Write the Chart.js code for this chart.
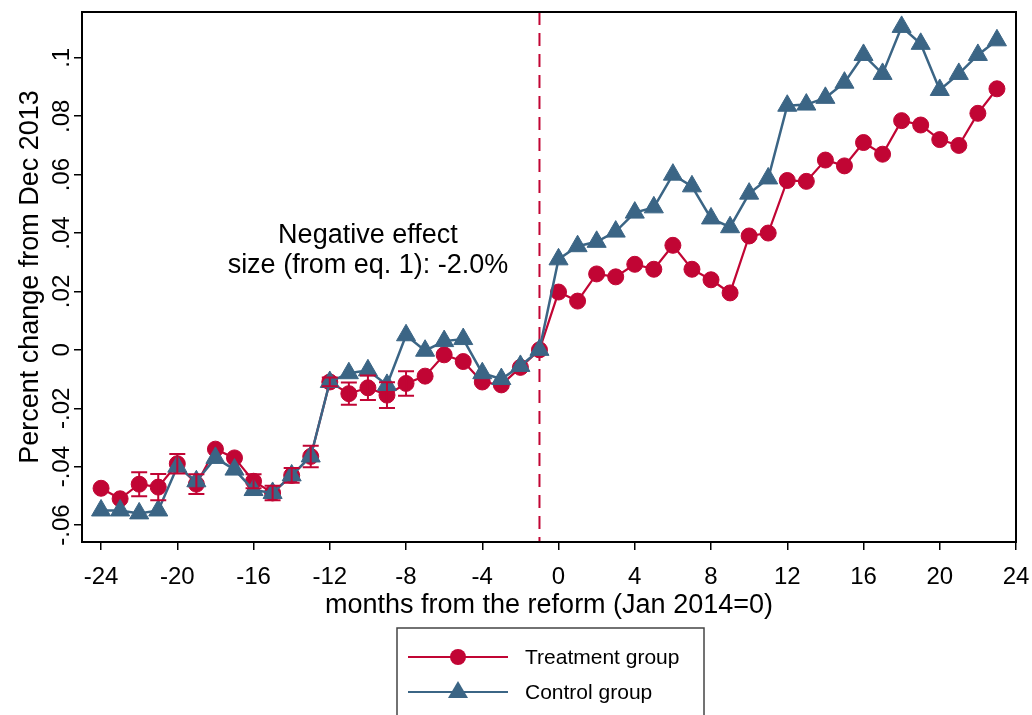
<!DOCTYPE html>
<html>
<head>
<meta charset="utf-8">
<script src="https://cdn.jsdelivr.net/npm/chart.js@4.4.0/dist/chart.umd.min.js"></script>
<style>
html, body { margin: 0; padding: 0; background: #fff; }
#wrap { width: 1032px; height: 715px; }
</style>
</head>
<body>
<div id="wrap"><canvas id="myChart" width="1032" height="715"></canvas></div>
<script>
// months relative to the reform, Jan 2014 = 0
var months = [-24,-23,-22,-21,-20,-19,-18,-17,-16,-15,-14,-13,
              -12,-11,-10,-9,-8,-7,-6,-5,-4,-3,-2,-1,
              0,1,2,3,4,5,6,7,8,9,10,11,
              12,13,14,15,16,17,18,19,20,21,22,23];

var treatment = [-0.0474,-0.0510,-0.0460,-0.0470,-0.0390,-0.0460,-0.0340,-0.0370,-0.0450,-0.0490,-0.0430,-0.0365,
                 -0.0110,-0.0150,-0.0130,-0.0155,-0.0115,-0.0090,-0.0017,-0.0040,-0.0110,-0.0120,-0.0060,0,
                 0.0198,0.0167,0.0260,0.0250,0.0293,0.0276,0.0358,0.0276,0.0240,0.0195,0.0390,0.0400,
                 0.0580,0.0577,0.0650,0.0630,0.0710,0.0670,0.0785,0.0770,0.0720,0.0700,0.0810,0.0894];

// half width of the confidence band around the treatment points
var treatErr = [0,0,0.0041,0.0045,0.0033,0.0034,0,0,0.0024,0.0025,0.0025,0.0037,
                0.0015,0.0038,0.0042,0.0044,0.0042,0,0,0,0,0,0,0,
                0,0,0,0,0,0,0,0,0,0,0,0,
                0,0,0,0,0,0,0,0,0,0,0,0];

var control = [-0.0550,-0.0550,-0.0560,-0.0550,-0.0400,-0.0450,-0.0370,-0.0410,-0.0480,-0.0490,-0.0430,-0.0365,
               -0.0110,-0.0080,-0.0070,-0.0120,0.0050,-0.0003,0.0030,0.0037,-0.0080,-0.0100,-0.0055,0,
               0.0310,0.0355,0.0370,0.0405,0.0470,0.0488,0.0600,0.0560,0.0450,0.0420,0.0535,0.0587,
               0.0836,0.0840,0.0863,0.0915,0.1010,0.0945,0.1106,0.1048,0.0890,0.0945,0.1010,0.1060];

var xTicks = [-24,-20,-16,-12,-8,-4,0,4,8,12,16,20,24];
var yTicks = [-0.06,-0.04,-0.02,0,0.02,0.04,0.06,0.08,0.1];
var yTickLabels = ['-.06','-.04','-.02','0','.02','.04','.06','.08','.1'];

var reformMonth = -1;
var noteLines = ['Negative effect', 'size (from eq. 1): -2.0%'];
var notePos = { x: -10, y: [0.0393, 0.0288] };

var red = '#c10534';
var blue = '#3b6585';
var fontFam = '"Liberation Sans", Arial, sans-serif';

Chart.defaults.font.family = fontFam;
Chart.defaults.color = '#000';

function pts(ys) {
  return months.map(function (m, i) { return { x: m, y: ys[i] }; });
}

var extras = {
  id: 'extras',
  beforeDatasetsDraw: function (chart) {
    var ctx = chart.ctx, a = chart.chartArea;
    var px = chart.scales.x.getPixelForValue(reformMonth);
    ctx.save();
    ctx.strokeStyle = red;
    ctx.lineWidth = 2;
    ctx.setLineDash([13, 8]);
    ctx.beginPath();
    ctx.moveTo(px, a.top);
    ctx.lineTo(px, a.bottom);
    ctx.stroke();
    ctx.restore();
  },
  afterDatasetsDraw: function (chart) {
    var ctx = chart.ctx, xs = chart.scales.x, ys = chart.scales.y;
    ctx.save();
    ctx.strokeStyle = red;
    ctx.lineWidth = 2;
    months.forEach(function (m, i) {
      var e = treatErr[i];
      if (!e) return;
      var px = xs.getPixelForValue(m);
      var y1 = ys.getPixelForValue(treatment[i] + e);
      var y2 = ys.getPixelForValue(treatment[i] - e);
      ctx.beginPath();
      ctx.moveTo(px, y1); ctx.lineTo(px, y2);
      ctx.moveTo(px - 8, y1); ctx.lineTo(px + 8, y1);
      ctx.moveTo(px - 8, y2); ctx.lineTo(px + 8, y2);
      ctx.stroke();
    });
    ctx.restore();
  },
  afterDraw: function (chart) {
    var ctx = chart.ctx, a = chart.chartArea, xs = chart.scales.x, ys = chart.scales.y;
    ctx.save();
    // frame
    ctx.strokeStyle = '#000';
    ctx.lineWidth = 2;
    ctx.strokeRect(a.left, a.top, a.right - a.left, a.bottom - a.top);

    // note
    ctx.fillStyle = '#000';
    ctx.font = '27px ' + fontFam;
    ctx.textAlign = 'center';
    ctx.textBaseline = 'middle';
    noteLines.forEach(function (t, i) {
      ctx.fillText(t, xs.getPixelForValue(notePos.x), ys.getPixelForValue(notePos.y[i]));
    });

    // legend
    ctx.strokeStyle = '#444';
    ctx.lineWidth = 1.5;
    ctx.strokeRect(397, 628, 307, 100);
    ctx.font = '21px ' + fontFam;
    ctx.textAlign = 'left';
    chart.data.datasets.slice().sort(function (p, q) { return p.legendRank - q.legendRank; }).forEach(function (ds, i) {
      var y = 657 + i * 35;
      ctx.strokeStyle = ds.borderColor;
      ctx.lineWidth = 2;
      ctx.beginPath();
      ctx.moveTo(408, y); ctx.lineTo(508, y);
      ctx.stroke();
      ctx.fillStyle = ds.pointBackgroundColor;
      ctx.beginPath();
      if (ds.pointStyle === 'triangle') {
        ctx.moveTo(458, y - 11);
        ctx.lineTo(468, y + 6);
        ctx.lineTo(448, y + 6);
        ctx.closePath();
      } else {
        ctx.arc(458, y, 8, 0, Math.PI * 2);
      }
      ctx.fill();
      ctx.fillStyle = '#000';
      ctx.fillText(ds.label, 525, y + 1);
    });
    ctx.restore();
  }
};

var ctx = document.getElementById('myChart').getContext('2d');
var chart = new Chart(ctx, {
  type: 'line',
  data: {
    datasets: [{
      label: 'Treatment group',
      legendRank: 0,
      order: 2,
      data: pts(treatment),
      borderColor: red,
      backgroundColor: red,
      pointBackgroundColor: red,
      pointBorderColor: red,
      borderWidth: 2.2,
      pointStyle: 'circle',
      pointRadius: 8,
      pointBorderWidth: 1,
      tension: 0
    }, {
      label: 'Control group',
      legendRank: 1,
      order: 1,
      data: pts(control),
      borderColor: blue,
      backgroundColor: blue,
      pointBackgroundColor: blue,
      pointBorderColor: blue,
      borderWidth: 2.5,
      pointStyle: 'triangle',
      pointRadius: 11,
      pointBorderWidth: 1,
      tension: 0
    }]
  },
  options: {
    responsive: false,
    animation: false,
    devicePixelRatio: 1,
    layout: { padding: { left: 0, right: 16, top: 10, bottom: 85 } },
    plugins: { legend: { display: false }, tooltip: { enabled: false } },
    scales: {
      x: {
        type: 'linear',
        min: -25,
        max: 24,
        afterBuildTicks: function (s) { s.ticks = xTicks.map(function (v) { return { value: v }; }); },
        afterFit: function (s) { s.height = 88; s.paddingLeft = 0; s.paddingRight = 0; },
        ticks: { font: { size: 24 }, color: '#000', padding: 13, autoSkip: false, maxRotation: 0,
                 callback: function (v) { return String(v); } },
        grid: { drawOnChartArea: false, drawTicks: true, tickLength: 8, color: '#000', lineWidth: 1.5 },
        border: { display: false },
        title: { display: true, text: 'months from the reform (Jan 2014=0)', font: { size: 27 }, color: '#000',
                 padding: { top: 0, bottom: 8 } }
      },
      y: {
        type: 'linear',
        min: -0.0658,
        max: 0.1157,
        afterBuildTicks: function (s) { s.ticks = yTicks.map(function (v) { return { value: v }; }); },
        afterFit: function (s) { s.width = 82; s.paddingTop = 0; s.paddingBottom = 0; },
        ticks: { font: { size: 24 }, color: '#000', padding: -9, minRotation: 90, maxRotation: 90,
                 crossAlign: 'center', autoSkip: false,
                 callback: function (v, i) { return yTickLabels[i]; } },
        grid: { drawOnChartArea: false, drawTicks: true, tickLength: 8, color: '#000', lineWidth: 1.5 },
        border: { display: false },
        title: { display: true, text: 'Percent change from Dec 2013', font: { size: 27 }, color: '#000',
                 padding: { top: 14, bottom: 0 } }
      }
    }
  },
  plugins: [extras]
});
</script>
</body>
</html>
